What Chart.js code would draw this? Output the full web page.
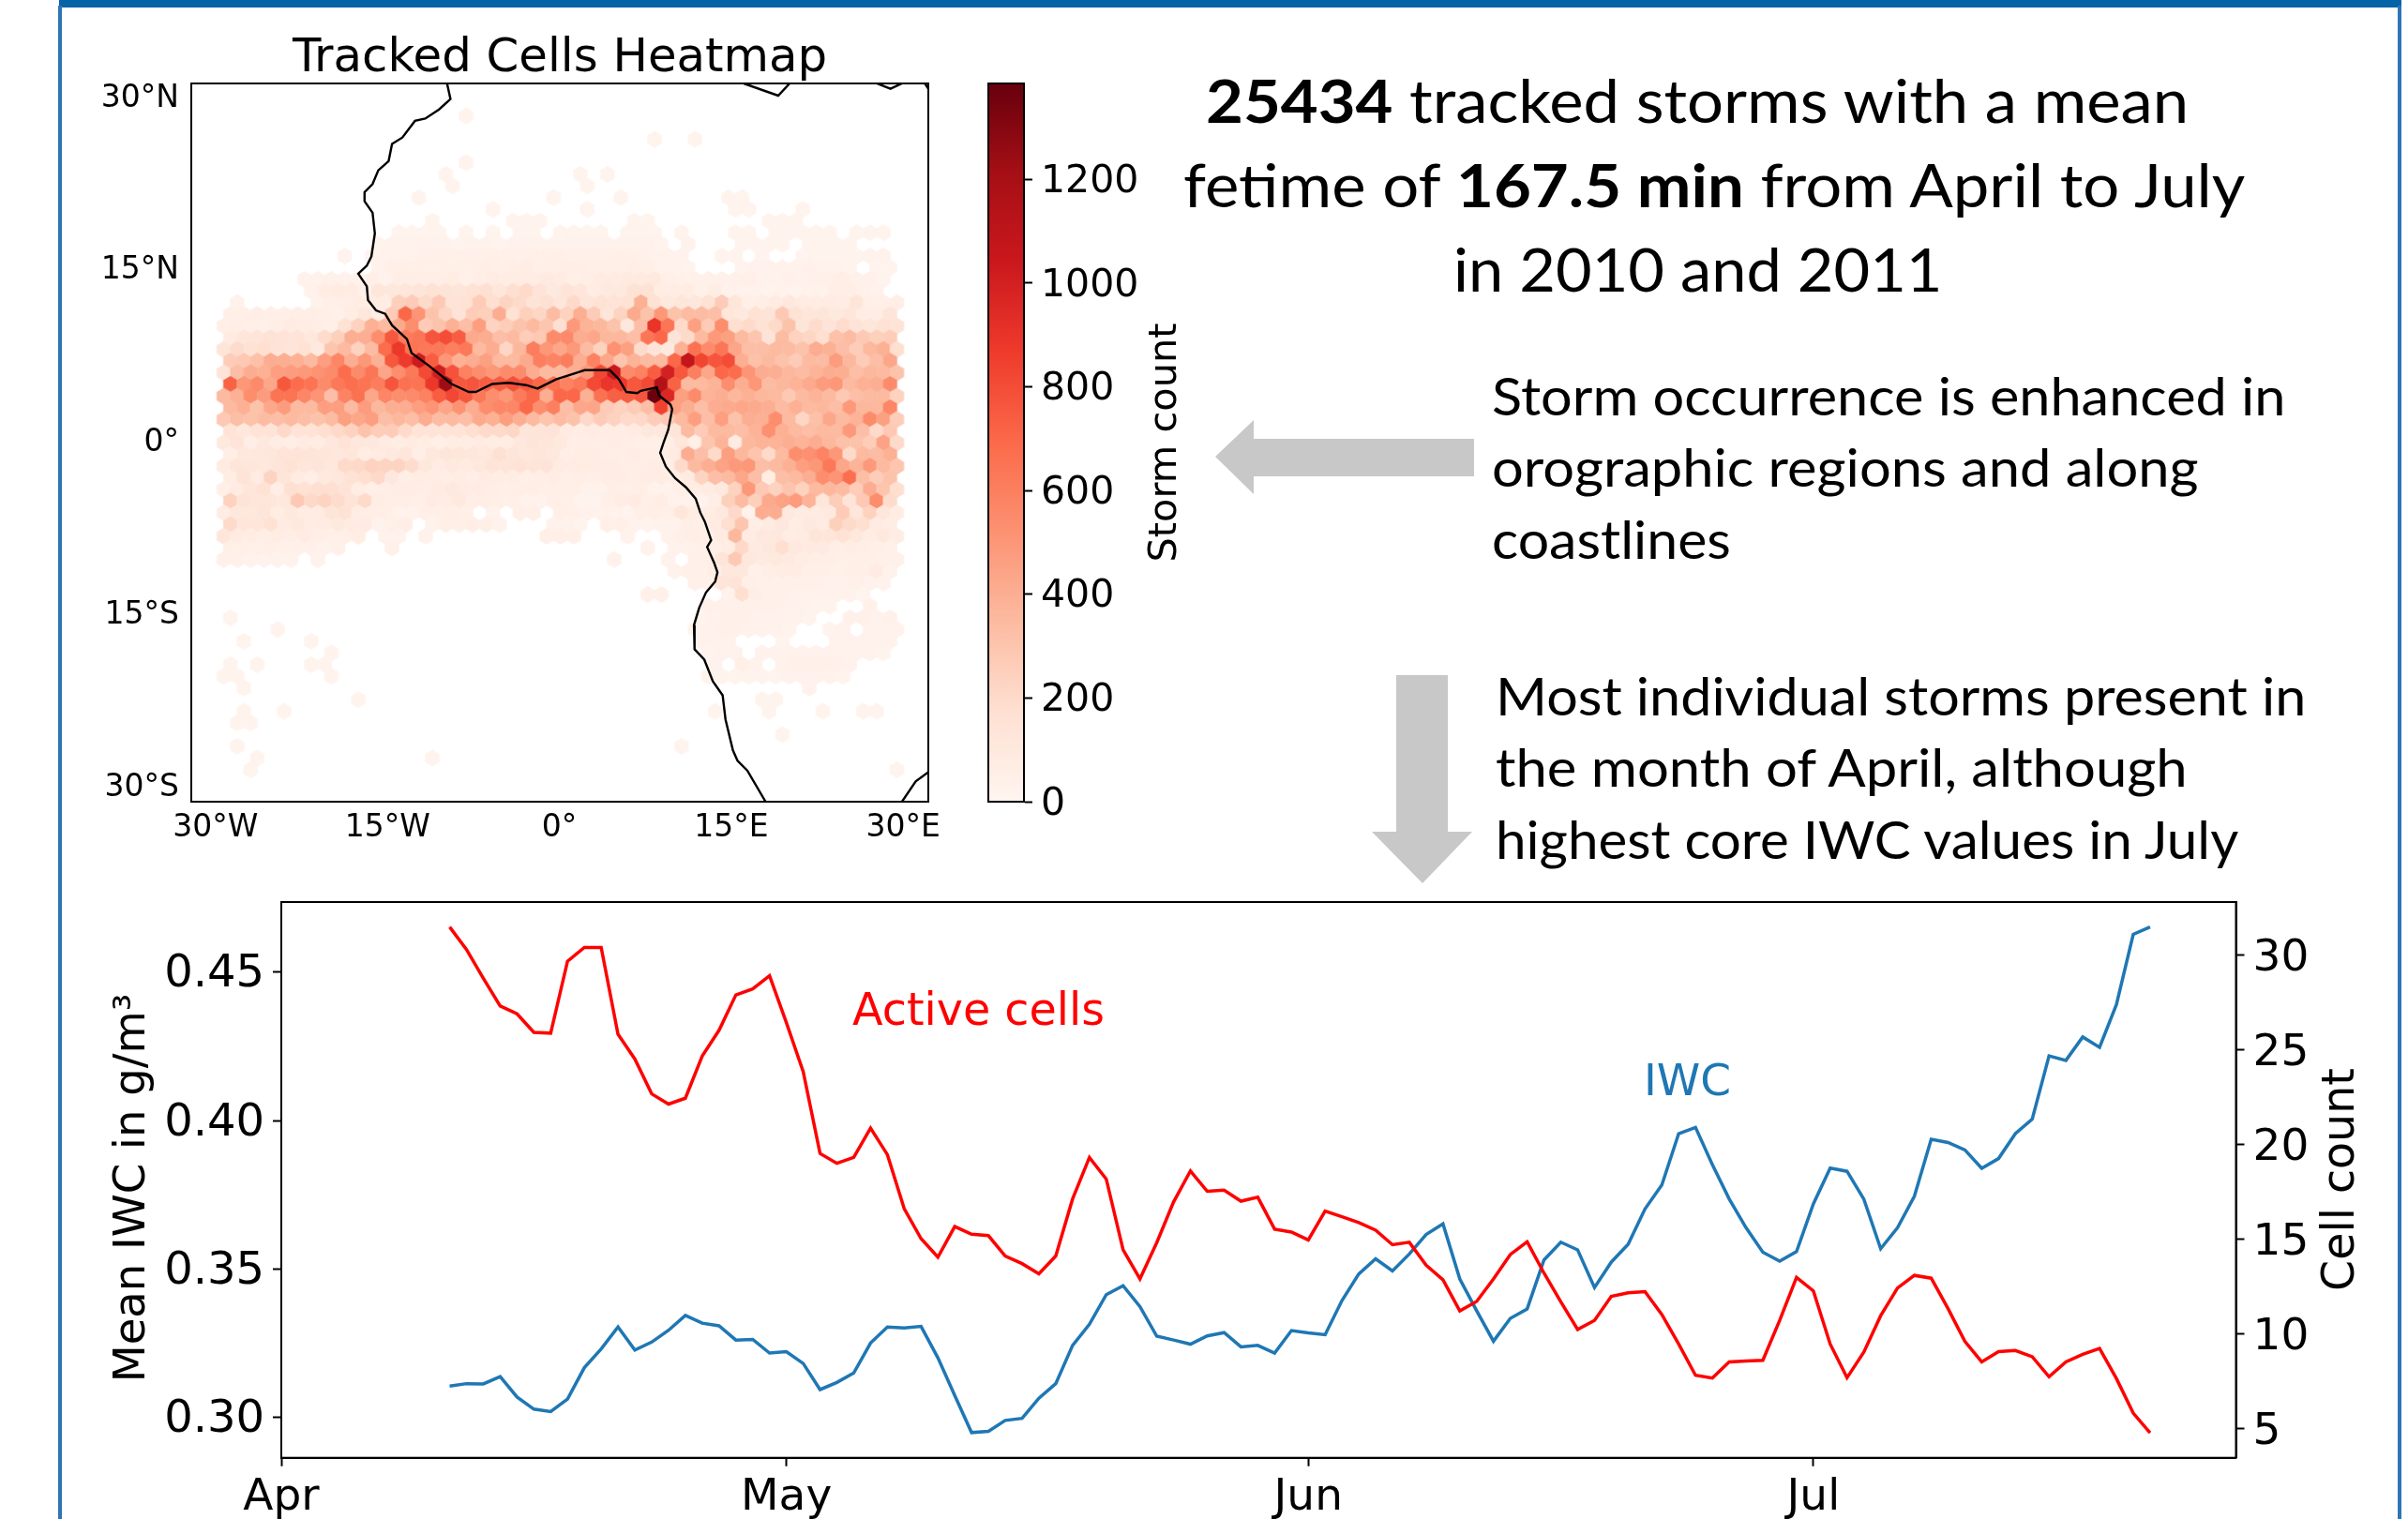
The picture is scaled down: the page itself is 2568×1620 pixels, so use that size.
<!DOCTYPE html>
<html>
<head>
<meta charset="utf-8">
<title>Tracked storms</title>
<script src="https://cdn.jsdelivr.net/npm/chart.js@4"></script>
<style>
  html, body { margin: 0; padding: 0; background: #fff; }
  #page { position: relative; width: 2568px; height: 1620px; overflow: hidden; background: #fff; }
  canvas { position: absolute; }
  .plot { position: absolute; font-family: "DejaVu Sans", sans-serif; color: #000; white-space: nowrap; line-height: 1; }
  .rot { transform: translate(-50%, -50%) rotate(-90deg); }
  .note { position: absolute; font-family: Lato, sans-serif; color: #000; white-space: nowrap; line-height: 1; transform-origin: 0 50%; }
  .head { font-size: 64px; }
  .body { font-size: 56px; }
  #frameTop { position: absolute; left: 63px; top: 0; width: 2498px; height: 8px; background: #0563a8; }
  #frameLeft { position: absolute; left: 62px; top: 6px; width: 4px; height: 1614px; background: #2e75b6; }
  #frameRight { position: absolute; left: 2557px; top: 6px; width: 4px; height: 1614px; background: #2e75b6; }
  svg { position: absolute; left: 0; top: 0; }
</style>
</head>
<body>
<div id="page">
  <div id="frameTop"></div>
  <div id="frameLeft"></div>
  <div id="frameRight"></div>

  <canvas id="mapChart" style="left:0;top:0;width:1040px;height:960px"></canvas>
  <canvas id="barChart" style="left:1000px;top:0;width:250px;height:1000px"></canvas>
  <canvas id="lineChart" style="left:0;top:900px;width:2568px;height:720px"></canvas>

  <svg width="2568" height="1620">
    <polygon fill="#c8c8c8" points="1296,487 1337,448 1337,468 1572,468 1572,508 1337,508 1337,527"></polygon>
    <polygon fill="#c8c8c8" points="1489,720 1544,720 1544,887 1570,887 1517,942 1463,887 1489,887"></polygon>
  </svg>

  <div class="plot" style="left:312px;top:35px;font-size:49.8px">Tracked Cells Heatmap</div>
  <div class="plot rot" style="left:1240px;top:472px;font-size:41.5px">Storm count</div>
  <div class="plot rot" style="left:138px;top:1267px;font-size:46.5px">Mean IWC in g/m³</div>
  <div class="plot rot" style="left:2494px;top:1258px;font-size:47.5px">Cell count</div>
  <div class="plot" style="left:909px;top:1053px;font-size:47.6px;color:#ff0000">Active cells</div>
  <div class="plot" style="left:1753px;top:1128px;font-size:47px;color:#1f77b4">IWC</div>

  <div class="note head" data-w="1048" style="left:1286px;top:75px"><b>25434</b> tracked storms with a mean</div>
  <div class="note head" data-w="1132" style="left:1262px;top:165px">fetime of <b>167.5 min</b> from April to July</div>
  <div class="note head" data-w="522" style="left:1550px;top:255px">in 2010 and 2011</div>
  <div class="note body" data-w="846" style="left:1591px;top:394px">Storm occurrence is enhanced in</div>
  <div class="note body" data-w="754" style="left:1591px;top:470px">orographic regions and along</div>
  <div class="note body" data-w="255" style="left:1591px;top:547px">coastlines</div>
  <div class="note body" data-w="864" style="left:1595px;top:714px">Most individual storms present in</div>
  <div class="note body" data-w="738" style="left:1595px;top:790px">the month of April, although</div>
  <div class="note body" data-w="792" style="left:1595px;top:867px">highest core IWC values in July</div>
</div>

<script>
// Time series, one value per day starting 11 April
const firstDay = 10;
const cellCount = [
  31.5, 30.31, 28.79, 27.33, 26.91, 25.93, 25.89, 29.69, 30.42, 30.42, 25.83, 24.52, 22.68, 22.14, 22.45, 24.68, 26.04, 27.91, 28.23, 28.92,
  26.45, 23.85, 19.53, 19.01, 19.32, 20.87, 19.47, 16.61, 15.03, 14.05, 15.67, 15.26, 15.19, 14.11, 13.71, 13.17, 14.11, 17.13, 19.32, 18.18,
  14.44, 12.9, 14.82, 16.97, 18.61, 17.53, 17.59, 17.01, 17.22, 15.53, 15.38, 14.96, 16.49, 16.19, 15.88, 15.48, 14.71, 14.84, 13.63, 12.86,
  11.21, 11.71, 12.9, 14.19, 14.86, 13.21, 11.69, 10.23, 10.71, 11.98, 12.17, 12.23, 11.02, 9.46, 7.81, 7.66, 8.52, 8.56, 8.6, 10.71,
  12.98, 12.27, 9.46, 7.68, 9.04, 10.96, 12.42, 13.09, 12.94, 11.33, 9.6, 8.52, 9.06, 9.12, 8.79, 7.73, 8.52, 8.92, 9.23, 7.64, 5.81, 4.77
];
const meanIwc = [
  0.3105, 0.3113, 0.3112, 0.3137, 0.3068, 0.3027, 0.3019, 0.3061, 0.3167, 0.323, 0.3304, 0.3226, 0.3253, 0.3293, 0.3343, 0.3317, 0.3308, 0.326, 0.3262, 0.3216,
  0.3221, 0.3181, 0.3093, 0.3117, 0.3149, 0.325, 0.3304, 0.3301, 0.3306, 0.32, 0.3073, 0.2948, 0.2952, 0.2989, 0.2996, 0.3064, 0.3113, 0.3242, 0.3313, 0.3413,
  0.3443, 0.3373, 0.3273, 0.326, 0.3246, 0.3274, 0.3285, 0.3237, 0.3242, 0.3216, 0.3292, 0.3284, 0.3278, 0.3393, 0.3483, 0.3534, 0.3493, 0.355, 0.3616, 0.3652,
  0.3466, 0.3359, 0.3256, 0.3333, 0.3365, 0.353, 0.359, 0.3564, 0.3437, 0.3523, 0.3583, 0.3702, 0.3783, 0.3956, 0.3977, 0.3852, 0.3736, 0.3639, 0.3556, 0.3526,
  0.3558, 0.3719, 0.384, 0.3829, 0.3735, 0.3568, 0.3639, 0.3745, 0.3937, 0.3926, 0.3901, 0.3839, 0.3872, 0.3956, 0.4005, 0.4218, 0.4203, 0.4282, 0.4247, 0.4391, 0.4628, 0.4653
];
const monthDays = [0, 30, 61, 91];
const monthLabels = ['Apr', 'May', 'Jun', 'Jul'];
const iwcTicks = [0.30, 0.35, 0.40, 0.45];
const cellTicks = [5, 10, 15, 20, 25, 30];

// Map ticks
const lonTicks = [-30, -15, 0, 15, 30];
const lonLabels = ['30°W', '15°W', '0°', '15°E', '30°E'];
const latTicks = [-30, -15, 0, 15, 30];
const latLabels = ['30°S', '15°S', '0°', '15°N', '30°N'];

// Colour bar
const countTicks = [0, 200, 400, 600, 800, 1000, 1200];
const countMax = 1385;
const redsStops = ['#fff5f0', '#fee0d2', '#fcbba1', '#fc9272', '#fb6a4a', '#ef3b2c', '#cb181d', '#a50f15', '#67000d'];

// Coastline, lon/lat pairs
const coastAfrica = [
  [-9.8, 31.06], [-9.5, 29.7], [-10.5, 28.8], [-11.7, 28], [-12.6, 27.8], [-13.7, 26.35], [-14.6, 25.8], [-14.9, 24.3], [-15.8, 23.5], [-16.3, 22.3],
  [-17, 21.6], [-17, 20.8], [-16.3, 19.8], [-16.1, 18], [-16.4, 16], [-16.8, 15.2], [-17.55, 14.5], [-16.8, 13.4], [-16.7, 12.2], [-16, 11.3],
  [-15.2, 11], [-14.6, 10], [-13.3, 8.8], [-12.9, 7.6], [-11.4, 6.5], [-9.4, 4.9], [-7.9, 4.2], [-7.3, 4.2], [-5.85, 4.9], [-4.4, 5],
  [-2.9, 4.8], [-1.9, 4.5], [-0.3, 5.3], [1.75, 5.95], [2.2, 6.1], [4.4, 6.1], [5.2, 5.3], [5.85, 4.2], [6.8, 4.1], [7.1, 4.3],
  [8.5, 4.6], [8.7, 3.9], [9.7, 3.1], [9.85, 2.7], [9.5, 0.9], [9.1, -0.2], [8.8, -1.1], [9.3, -2.3], [10.1, -3.3], [11.05, -4.1],
  [11.9, -5.1], [12.3, -6.3], [12.7, -7.1], [13.25, -8.7], [12.9, -9.3], [13.5, -10.65], [13.8, -11.5], [13.6, -12.3], [12.8, -13.25], [12.2, -14.6],
  [11.75, -16.1], [11.8, -18.2], [12.65, -19.1], [13.4, -21], [14.25, -22.2], [14.5, -24.3], [15.15, -27], [15.55, -27.9], [16.4, -28.75], [18, -31.47]
];
const coastSouthEast = [[29.9, -31.47], [31.1, -29.7], [32.2, -28.9]];
const coastLibya = [[16.1, 31.06], [19.1, 30], [20.1, 31.06]];
const coastEgypt = [[27.7, 31.06], [28.9, 30.6], [29.9, 31.06]];
const coastSinai = [[31.9, 31.06], [32.2, 30.6]];

// Hexbin counts, read row by row from the top of the map.
// rowFirstCol[r] is the column of the first value in rowValues[r], 0 = empty cell
const rowFirstCol = [
  18, 0, 32, 0, 18, 16, 17, 14, 20, 15, 13, 11, 9, 11, 6, 6, 1,
  0, 0, 0, 0, 0, 0, 0, 0, 0, 0, 0, 0, 0, 0, 0, 0, 0, 0, 0, 0, 0, 0,
  33, 35, 31, 36, 35, 35, 35, 36, 36, 36, 43, 40, 36, 0, 41, 34, 0, 50
];
const rowValues = [
  [20],
  [],
  [20, 0, 0, 20],
  [],
  [20],
  [20, 0, 0, 0, 0, 0, 0, 0, 0, 0, 20, 0, 20],
  [20, 0, 0, 0, 0, 0, 0, 0, 0, 0, 20],
  [20, 0, 0, 0, 0, 0, 0, 0, 0, 0, 20, 0, 0, 0, 0, 20, 0, 0, 0, 0, 0, 0, 0, 20, 20],
  [20, 0, 0, 0, 0, 0, 0, 20, 0, 0, 0, 0, 0, 0, 0, 0, 0, 0, 20, 20, 0, 0, 0, 20],
  [20, 0, 0, 0, 0, 0, 20, 20, 20, 0, 0, 0, 0, 0, 0, 20, 20, 0, 0, 0, 0, 0, 0, 0, 0, 20, 20, 20],
  [20, 20, 20, 20, 0, 20, 0, 20, 0, 20, 20, 0, 20, 20, 20, 20, 0, 20, 20, 20, 0, 20, 0, 0, 0, 20, 20, 0, 20, 20, 20, 20, 20, 0, 20, 20, 20],
  [20, 30, 30, 30, 30, 30, 20, 30, 30, 20, 30, 30, 30, 30, 30, 30, 30, 30, 30, 30, 30, 20, 0, 30, 0, 0, 0, 20, 20, 20, 20, 0, 20, 20, 20, 20],
  [20, 0, 20, 30, 30, 30, 40, 40, 40, 40, 40, 50, 40, 40, 50, 50, 50, 40, 40, 40, 50, 50, 40, 30, 30, 30, 0, 0, 20, 20, 0, 20, 0, 0, 20, 20, 20, 20, 20, 30, 30],
  [30, 50, 50, 50, 50, 50, 50, 50, 60, 50, 60, 70, 50, 50, 60, 60, 50, 50, 50, 60, 50, 30, 30, 20, 0, 0, 0, 20, 30, 30, 30, 30, 40, 30, 30, 20, 0, 20, 20],
  [30, 30, 40, 30, 30, 50, 30, 60, 60, 60, 60, 70, 40, 60, 80, 70, 70, 70, 90, 80, 50, 60, 80, 80, 90, 90, 100, 50, 40, 40, 40, 40, 40, 50, 30, 30, 40, 30, 40, 50, 60, 40, 40, 20],
  [30, 70, 80, 80, 40, 120, 110, 120, 130, 160, 140, 130, 160, 170, 120, 170, 200, 140, 100, 140, 120, 70, 100, 100, 160, 160, 70, 70, 70, 40, 70, 30, 30, 30, 20, 30, 20, 30, 30, 60, 60, 40, 30],
  [30, 0, 0, 0, 0, 0, 30, 50, 60, 70, 70, 70, 250, 270, 200, 280, 140, 160, 270, 180, 230, 200, 140, 170, 120, 200, 130, 160, 140, 160, 390, 160, 100, 120, 110, 160, 270, 120, 50, 60, 80, 110, 80, 70, 80, 70, 130, 50, 50, 60],
  [50, 50, 60, 50, 50, 60, 60, 50, 40, 70, 110, 70, 270, 700, 510, 310, 220, 140, 260, 250, 410, 160, 250, 220, 340, 240, 400, 270, 130, 230, 420, 310, 500, 310, 340, 340, 330, 120, 100, 160, 140, 280, 160, 120, 130, 100, 120, 70, 70, 130],
  [50, 60, 50, 40, 60, 80, 70, 60, 50, 160, 240, 390, 350, 420, 540, 270, 310, 390, 330, 470, 230, 260, 310, 350, 300, 170, 490, 380, 360, 310, 110, 330, 900, 640, 200, 460, 270, 540, 180, 200, 160, 200, 310, 130, 190, 140, 190, 140, 120, 160, 140],
  [80, 120, 130, 160, 140, 140, 110, 190, 250, 400, 400, 540, 760, 620, 640, 770, 800, 740, 420, 410, 330, 350, 260, 280, 550, 560, 410, 430, 360, 360, 330, 640, 700, 140, 200, 350, 490, 460, 350, 300, 140, 340, 240, 220, 180, 320, 340, 280, 250, 260],
  [130, 190, 160, 180, 140, 130, 160, 100, 300, 350, 240, 340, 680, 880, 650, 630, 630, 600, 630, 350, 410, 220, 360, 610, 500, 430, 490, 340, 240, 520, 460, 190, 140, 100, 390, 660, 550, 640, 440, 330, 330, 350, 340, 310, 410, 390, 330, 260, 360, 390, 180],
  [260, 280, 320, 410, 400, 390, 350, 470, 570, 400, 500, 390, 760, 870, 1030, 740, 500, 390, 410, 460, 350, 350, 420, 600, 580, 610, 400, 590, 430, 300, 380, 350, 350, 700, 1080, 830, 770, 800, 400, 320, 350, 310, 270, 350, 340, 480, 360, 270, 330, 430],
  [140, 330, 410, 390, 470, 480, 490, 520, 550, 680, 550, 640, 440, 540, 630, 810, 1010, 780, 590, 540, 500, 550, 550, 410, 350, 350, 400, 490, 820, 1050, 550, 590, 740, 1000, 760, 600, 430, 700, 680, 510, 410, 400, 360, 340, 380, 410, 400, 330, 360, 350, 310],
  [720, 500, 550, 430, 760, 680, 650, 550, 630, 670, 650, 610, 770, 660, 650, 880, 1230, 760, 770, 740, 740, 790, 760, 700, 660, 590, 630, 810, 890, 880, 760, 810, 1150, 720, 350, 350, 380, 540, 400, 500, 340, 360, 380, 420, 480, 500, 350, 390, 400, 550],
  [350, 390, 540, 480, 650, 650, 570, 510, 330, 580, 660, 430, 570, 540, 550, 590, 740, 820, 760, 630, 540, 500, 620, 700, 400, 700, 700, 390, 660, 730, 740, 770, 1375, 960, 460, 550, 380, 400, 360, 390, 360, 350, 280, 350, 380, 350, 280, 330, 350, 350, 240],
  [350, 390, 310, 430, 480, 350, 350, 470, 470, 350, 480, 360, 400, 410, 470, 510, 440, 520, 410, 540, 570, 570, 700, 540, 600, 330, 430, 440, 270, 240, 270, 330, 840, 460, 400, 330, 410, 420, 430, 420, 400, 340, 390, 350, 360, 330, 490, 360, 360, 570],
  [280, 330, 310, 340, 330, 350, 330, 310, 340, 460, 430, 470, 330, 360, 330, 410, 340, 350, 330, 420, 390, 470, 400, 350, 300, 340, 310, 210, 270, 240, 200, 210, 260, 280, 350, 470, 330, 470, 310, 400, 390, 540, 350, 220, 320, 430, 350, 380, 550, 460, 260],
  [150, 110, 150, 140, 210, 150, 150, 180, 210, 240, 310, 260, 270, 200, 150, 140, 140, 150, 180, 200, 200, 220, 130, 130, 140, 80, 70, 80, 70, 70, 80, 110, 110, 130, 350, 270, 350, 350, 330, 380, 530, 390, 350, 330, 350, 350, 490, 330, 200, 280],
  [100, 140, 60, 100, 70, 60, 80, 70, 110, 150, 110, 110, 80, 70, 80, 70, 50, 70, 70, 80, 70, 70, 110, 130, 120, 100, 60, 60, 60, 70, 60, 50, 50, 60, 120, 50, 300, 380, 80, 360, 380, 380, 400, 380, 410, 360, 320, 310, 260, 450, 200],
  [60, 110, 110, 120, 140, 140, 130, 120, 110, 120, 70, 80, 100, 120, 60, 110, 130, 120, 120, 110, 170, 130, 110, 120, 110, 60, 70, 70, 60, 60, 70, 60, 60, 80, 410, 330, 200, 470, 360, 300, 200, 350, 540, 530, 580, 500, 200, 350, 340, 390],
  [80, 130, 120, 110, 130, 160, 120, 130, 110, 200, 210, 240, 230, 230, 190, 110, 80, 100, 80, 110, 140, 130, 160, 130, 140, 80, 80, 70, 70, 70, 60, 60, 70, 60, 200, 350, 400, 450, 490, 500, 330, 350, 390, 470, 500, 630, 430, 380, 490, 350, 300],
  [70, 140, 80, 230, 130, 80, 60, 100, 110, 160, 180, 210, 110, 60, 70, 70, 60, 70, 60, 80, 70, 70, 50, 60, 70, 50, 60, 50, 70, 70, 60, 70, 70, 60, 80, 230, 330, 350, 430, 330, 70, 330, 350, 400, 540, 510, 670, 330, 260, 310],
  [50, 80, 120, 160, 60, 170, 160, 170, 180, 140, 70, 50, 60, 70, 70, 60, 80, 100, 80, 80, 60, 50, 60, 60, 50, 50, 50, 30, 30, 60, 50, 60, 30, 30, 50, 70, 80, 100, 240, 500, 280, 240, 300, 240, 350, 360, 340, 260, 410, 300, 180],
  [240, 140, 120, 120, 110, 280, 210, 230, 190, 140, 200, 70, 60, 60, 50, 80, 70, 100, 60, 60, 50, 50, 30, 30, 50, 50, 20, 20, 50, 70, 80, 50, 70, 30, 30, 30, 60, 250, 340, 250, 420, 450, 480, 380, 120, 260, 140, 280, 540, 190],
  [70, 110, 110, 130, 70, 100, 70, 80, 130, 160, 70, 60, 60, 30, 30, 50, 50, 60, 50, 0, 30, 0, 50, 50, 0, 50, 50, 30, 30, 30, 20, 50, 60, 50, 120, 70, 70, 100, 210, 30, 410, 410, 100, 80, 80, 100, 270, 120, 240, 120, 70],
  [200, 120, 120, 160, 80, 100, 70, 80, 100, 80, 80, 30, 50, 60, 0, 30, 50, 50, 60, 50, 30, 0, 0, 0, 30, 30, 20, 0, 50, 50, 30, 20, 30, 30, 60, 50, 80, 180, 300, 60, 80, 110, 70, 100, 80, 250, 200, 180, 80, 70],
  [120, 80, 70, 60, 70, 60, 80, 60, 50, 50, 70, 0, 30, 30, 0, 30, 0, 0, 0, 0, 0, 0, 0, 0, 50, 50, 50, 0, 0, 0, 30, 0, 0, 30, 50, 60, 50, 80, 360, 80, 110, 110, 70, 80, 130, 120, 160, 110, 70, 100, 70],
  [50, 50, 50, 50, 40, 40, 40, 30, 40, 0, 0, 0, 40, 0, 0, 0, 0, 0, 0, 0, 0, 0, 0, 0, 0, 0, 0, 0, 0, 0, 0, 30, 0, 30, 30, 40, 50, 70, 210, 90, 110, 180, 100, 90, 90, 60, 70, 60, 50, 40],
  [40, 40, 30, 30, 30, 30, 0, 30, 0, 0, 0, 0, 0, 0, 0, 0, 0, 0, 0, 0, 0, 0, 0, 0, 0, 0, 0, 0, 0, 30, 0, 0, 0, 30, 0, 40, 50, 130, 280, 110, 90, 100, 90, 70, 60, 60, 50, 50, 50, 40, 40],
  [30, 40, 40, 60, 110, 110, 40, 60, 70, 70, 50, 50, 40, 50, 50, 80, 30],
  [40, 40, 130, 140, 50, 40, 40, 40, 40, 40, 30, 30, 40, 30, 30],
  [40, 40, 0, 0, 0, 0, 30, 180, 60, 40, 40, 30, 30, 30, 30, 30, 20],
  [40, 40, 40, 40, 40, 40, 30, 30, 20, 20, 0, 0, 40],
  [20, 30, 40, 40, 30, 30, 30, 30, 20, 0, 0, 40, 40, 30, 40],
  [20, 30, 40, 40, 30, 30, 30, 20, 0, 0, 20, 30, 0, 30, 30, 30],
  [30, 30, 30, 0, 0, 0, 20, 0, 0, 0, 30, 30, 30, 30, 30],
  [20, 30, 30, 0, 30, 30, 30, 30, 30, 30, 30, 30, 30, 20],
  [30, 0, 50, 30, 0, 30, 40, 40, 40, 40, 30],
  [20, 20, 20, 20, 20, 20, 30, 30, 30, 30, 20],
  [30],
  [20, 20],
  [20, 0, 0, 0, 20, 0, 0, 0, 20, 0, 0, 20, 20],
  [],
  [20],
  [20],
  [],
  [20]
];
// West-side specks below the main band: [row from the top, column]
const sparseCells = [
  [43, 0], [44, 4], [45, 1], [45, 6], [46, 8], [47, 0], [47, 2], [47, 6], [47, 7], [48, 0], [48, 1], [48, 8], [49, 1],
  [50, 10], [51, 1], [51, 4], [52, 1], [52, 2], [54, 1], [55, 2], [55, 15], [56, 2]
];

const topRowOffset = -23;

// Grid of the hexbin in map degrees
const hexLonEven = -28.71;
const hexLonOdd = -29.29;
const hexLonStep = 1.175;
const hexLatZero = 4.857;
const hexLatStep = 1.0163;

function cellToPoint(r, col, v) {
  const m = r + topRowOffset;
  const lon0 = Math.abs(m) % 2 === 0 ? hexLonEven : hexLonOdd;
  return { x: lon0 + hexLonStep * col, y: hexLatZero - hexLatStep * m, v: v };
}

const hexPoints = [];
rowValues.forEach((row, r) => {
  row.forEach((v, i) => {
    if (v > 0) hexPoints.push(cellToPoint(r, rowFirstCol[r] + i, v));
  });
});
sparseCells.forEach(([r, col]) => hexPoints.push(cellToPoint(r, col, 20)));

function hexToRgb(h) {
  return [1, 3, 5].map(i => parseInt(h.slice(i, i + 2), 16));
}

function countToColor(v) {
  const t = Math.min(v / countMax, 1) * (redsStops.length - 1);
  const i = Math.min(Math.floor(t), redsStops.length - 2);
  const a = hexToRgb(redsStops[i]);
  const b = hexToRgb(redsStops[i + 1]);
  const c = a.map((p, k) => Math.round(p + (b[k] - p) * (t - i)));
  return `rgb(${c[0]},${c[1]},${c[2]})`;
}

// One small canvas per colour, used as the point style of the hexbin cells.
// A little larger than the grid cell so no white seams show between them
const hexCache = {};
function hexImage(color) {
  if (hexCache[color]) return hexCache[color];
  const c = document.createElement('canvas');
  c.width = 18;
  c.height = 20;
  const g = c.getContext('2d');
  g.fillStyle = color;
  g.beginPath();
  for (let k = 0; k < 6; k++) {
    const a = Math.PI / 3 * k - Math.PI / 2;
    const px = 9 + 8.8 * Math.cos(a);
    const py = 10 + 8.9 * Math.sin(a);
    if (k === 0) g.moveTo(px, py); else g.lineTo(px, py);
  }
  g.closePath();
  g.fill();
  hexCache[color] = c;
  return c;
}

// Black box round the plot area
const boxPlugin = {
  id: 'box',
  afterDatasetsDraw(chart) {
    const a = chart.chartArea;
    const ctx = chart.ctx;
    ctx.save();
    ctx.strokeStyle = '#000';
    ctx.lineWidth = 2;
    ctx.strokeRect(a.left, a.top, a.right - a.left, a.bottom - a.top);
    ctx.restore();
  }
};

function fixedTicks(values) {
  return scale => { scale.ticks = values.map(v => ({ value: v })); };
}

function labelFrom(values, labels) {
  return value => labels[values.indexOf(value)];
}

const sharedOptions = {
  responsive: false,
  animation: false,
  plugins: { legend: { display: false }, tooltip: { enabled: false } }
};

function coastDataset(points) {
  return {
    type: 'scatter',
    data: points.map(p => ({ x: p[0], y: p[1] })),
    showLine: true,
    pointRadius: 0,
    borderColor: '#000',
    borderWidth: 2.4,
    order: 0
  };
}

function sizeCanvas(id) {
  const el = document.getElementById(id);
  el.width = parseInt(el.style.width);
  el.height = parseInt(el.style.height);
  return el;
}

// Storm heatmap
new Chart(sizeCanvas('mapChart'), {
  type: 'scatter',
  data: {
    datasets: [
      coastDataset(coastAfrica),
      coastDataset(coastSouthEast),
      coastDataset(coastLibya),
      coastDataset(coastEgypt),
      coastDataset(coastSinai),
      {
        data: hexPoints,
        pointStyle: ctx => hexImage(countToColor(ctx.raw.v)),
        pointRadius: 8,
        order: 1
      }
    ]
  },
  options: {
    ...sharedOptions,
    layout: { padding: { top: 89, right: 50 } },
    scales: {
      x: {
        type: 'linear',
        min: -32.12,
        max: 32.2,
        grid: { display: false },
        border: { color: '#000', width: 2 },
        afterFit: s => { s.height = 105; },
        afterBuildTicks: fixedTicks(lonTicks),
        ticks: {
          autoSkip: false,
          maxRotation: 0,
          padding: 1,
          color: '#000',
          font: { family: 'DejaVu Sans', size: 33 },
          callback: labelFrom(lonTicks, lonLabels)
        }
      },
      y: {
        type: 'linear',
        min: -31.47,
        max: 31.06,
        grid: { display: false },
        border: { color: '#000', width: 2 },
        afterFit: s => { s.width = 204; },
        afterBuildTicks: fixedTicks(latTicks),
        ticks: {
          autoSkip: false,
          padding: 5,
          labelOffset: 3,
          color: '#000',
          font: { family: 'DejaVu Sans', size: 33 },
          callback: labelFrom(latTicks, latLabels)
        }
      }
    }
  },
  plugins: [boxPlugin]
});

// Colour bar drawn as one floating bar with the colormap as a gradient
new Chart(sizeCanvas('barChart'), {
  type: 'bar',
  data: {
    labels: ['Storm count'],
    datasets: [{
      data: [[0, countMax]],
      barPercentage: 1,
      categoryPercentage: 1,
      backgroundColor: ctx => {
        const area = ctx.chart.chartArea;
        if (!area) return redsStops[0];
        const grad = ctx.chart.ctx.createLinearGradient(0, area.bottom, 0, area.top);
        redsStops.forEach((c, i) => grad.addColorStop(i / (redsStops.length - 1), c));
        return grad;
      }
    }]
  },
  options: {
    ...sharedOptions,
    layout: { padding: { top: 89, left: 54, bottom: 145 } },
    scales: {
      x: { display: false },
      y: {
        position: 'right',
        min: 0,
        max: countMax,
        grid: { drawOnChartArea: false, drawTicks: true, tickLength: 9, tickWidth: 2, tickColor: '#000' },
        border: { color: '#000', width: 2 },
        afterFit: s => { s.width = 158; },
        afterBuildTicks: fixedTicks(countTicks),
        ticks: {
          autoSkip: false,
          padding: 9,
          labelOffset: 3,
          color: '#000',
          font: { family: 'DejaVu Sans', size: 41 },
          callback: v => String(v)
        }
      }
    }
  },
  plugins: [boxPlugin]
});

// Daily IWC and active cells
new Chart(sizeCanvas('lineChart'), {
  type: 'line',
  data: {
    datasets: [
      {
        label: 'Active cells',
        data: cellCount.map((v, i) => ({ x: firstDay + i, y: v })),
        yAxisID: 'yCells',
        borderColor: '#ff0000',
        borderWidth: 3.5,
        pointRadius: 0,
        tension: 0,
        order: 0
      },
      {
        label: 'IWC',
        data: meanIwc.map((v, i) => ({ x: firstDay + i, y: v })),
        yAxisID: 'yIwc',
        borderColor: '#1f77b4',
        borderWidth: 3.5,
        pointRadius: 0,
        tension: 0,
        order: 1
      }
    ]
  },
  options: {
    ...sharedOptions,
    layout: { padding: { top: 62 } },
    scales: {
      x: {
        type: 'linear',
        min: 0,
        max: 116.1,
        grid: { drawOnChartArea: false, drawTicks: true, tickLength: 9, tickWidth: 2, tickColor: '#000' },
        border: { color: '#000', width: 2 },
        afterFit: s => { s.height = 65.3; },
        afterBuildTicks: fixedTicks(monthDays),
        ticks: {
          autoSkip: false,
          maxRotation: 0,
          padding: 6,
          color: '#000',
          font: { family: 'DejaVu Sans', size: 47 },
          callback: labelFrom(monthDays, monthLabels)
        }
      },
      yIwc: {
        position: 'left',
        min: 0.2863,
        max: 0.4737,
        grid: { drawOnChartArea: false, drawTicks: true, tickLength: 9, tickWidth: 2, tickColor: '#000' },
        border: { color: '#000', width: 2 },
        afterFit: s => { s.width = 300; },
        afterBuildTicks: fixedTicks(iwcTicks),
        ticks: {
          autoSkip: false,
          padding: 9,
          labelOffset: 3,
          color: '#000',
          font: { family: 'DejaVu Sans', size: 48 },
          callback: v => v.toFixed(2)
        }
      },
      yCells: {
        position: 'right',
        min: 3.45,
        max: 32.82,
        grid: { drawOnChartArea: false, drawTicks: true, tickLength: 9, tickWidth: 2, tickColor: '#000' },
        border: { color: '#000', width: 2 },
        afterFit: s => { s.width = 183.5; },
        afterBuildTicks: fixedTicks(cellTicks),
        ticks: {
          autoSkip: false,
          padding: 9,
          labelOffset: 4,
          color: '#000',
          font: { family: 'DejaVu Sans', size: 47 }
        }
      }
    }
  },
  plugins: [boxPlugin]
});

// Squeeze the text lines to the widths they have in the figure
document.querySelectorAll('.note').forEach(el => {
  el.style.transform = `scaleX(${el.dataset.w / el.offsetWidth})`;
});
</script>
</body>
</html>
